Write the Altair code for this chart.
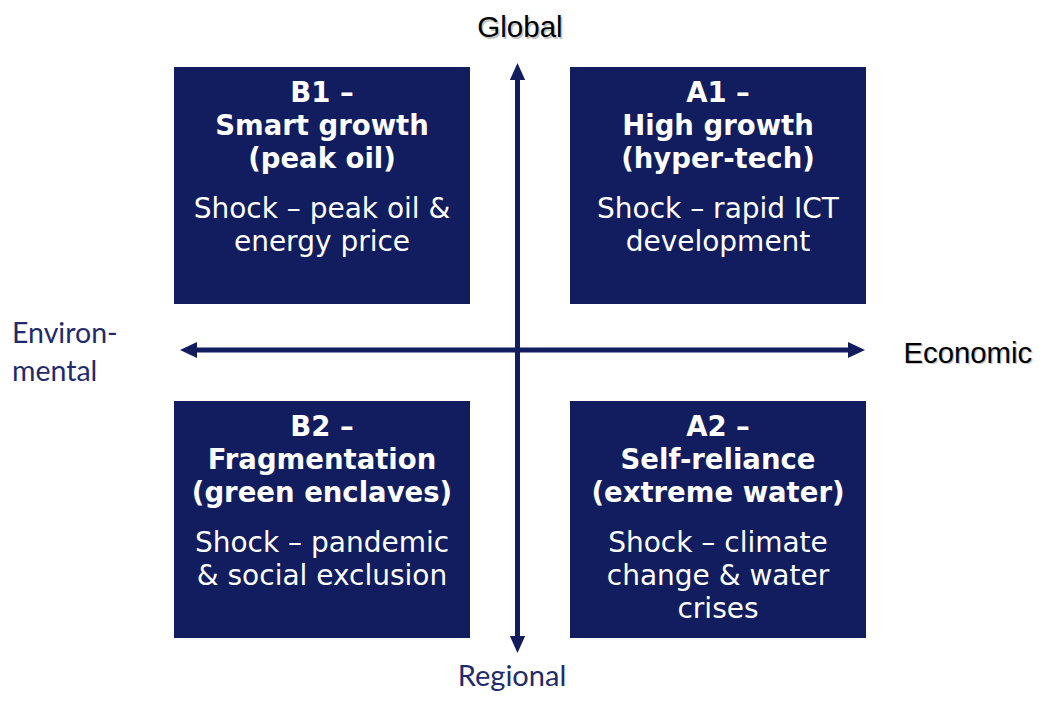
import altair as alt
import pandas as pd

# ---- content -------------------------------------------------------------
codes = ["B1", "A1", "B2", "A2"]
names = ["Smart growth", "High growth", "Fragmentation", "Self-reliance"]
subtitles = ["(peak oil)", "(hyper-tech)", "(green enclaves)", "(extreme water)"]
shocks = [
    ["Shock – peak oil &", "energy price"],
    ["Shock – rapid ICT", "development"],
    ["Shock – pandemic", "& social exclusion"],
    ["Shock – climate", "change & water", "crises"],
]
columns = ["left", "right", "left", "right"]
rows = ["top", "top", "bottom", "bottom"]

axis_top = "Global"
axis_bottom = "Regional"
axis_right = "Economic"
axis_left = ["Environ-", "mental"]

# ---- layout / style ------------------------------------------------------
NAVY = "#111d5e"
LABEL_NAVY = "#1f2b6c"
BOX_X = {"left": (-343.5, -47.5), "right": (52.5, 348.5)}
BOX_Y = {"top": (46, 283), "bottom": (-288, -51)}
TITLE_OFFSETS = [35, 68, 101]
BODY_OFFSETS = [151, 184, 217]
V_TIPS = (287, -303)
H_TIPS = (-337.5, 347.5)

W, H = 1027, 686
xs = alt.Scale(domain=[-509.5, -509.5 + W], nice=False, zero=False)
ys = alt.Scale(domain=[-344, 342], nice=False, zero=False)

# boxes
box_rows = []
title_rows = []
body_rows = []
for code, name, sub, shock, c, r in zip(codes, names, subtitles, shocks, columns, rows):
    x0, x1 = BOX_X[c]
    y0, y1 = BOX_Y[r]
    box_rows.append({"x": x0, "x2": x1, "y": y0, "y2": y1})
    cx = (x0 + x1) / 2
    for t, off in zip([code + " –", name, sub], TITLE_OFFSETS):
        title_rows.append({"x": cx, "y": y1 - off, "text": t})
    for t, off in zip(shock, BODY_OFFSETS):
        body_rows.append({"x": cx, "y": y1 - off, "text": t})

boxes = alt.Chart(pd.DataFrame(box_rows)).mark_rect(color=NAVY).encode(
    x=alt.X("x:Q", scale=xs, axis=None), x2="x2:Q",
    y=alt.Y("y:Q", scale=ys, axis=None), y2="y2:Q",
)

titles = alt.Chart(pd.DataFrame(title_rows)).mark_text(
    font="DejaVu Sans", fontWeight="bold", fontSize=27.5, color="white",
    align="center", baseline="alphabetic",
).encode(x=alt.X("x:Q", scale=xs, axis=None), y=alt.Y("y:Q", scale=ys, axis=None), text="text:N")

bodies = alt.Chart(pd.DataFrame(body_rows)).mark_text(
    font="DejaVu Sans", fontSize=28, color="white",
    align="center", baseline="alphabetic",
).encode(x=alt.X("x:Q", scale=xs, axis=None), y=alt.Y("y:Q", scale=ys, axis=None), text="text:N")

# arrows
INSET = 10
shafts = pd.DataFrame([
    {"x": 0, "x2": 0, "y": V_TIPS[0] - INSET, "y2": V_TIPS[1] + INSET},
    {"x": H_TIPS[0] + INSET, "x2": H_TIPS[1] - INSET, "y": 0, "y2": 0},
])
shaft_layer = alt.Chart(shafts).mark_rule(color=NAVY, strokeWidth=5).encode(
    x=alt.X("x:Q", scale=xs, axis=None), x2="x2:Q",
    y=alt.Y("y:Q", scale=ys, axis=None), y2="y2:Q",
)

heads = pd.DataFrame([
    {"x": 0, "y": V_TIPS[0], "shape": "M0,0L-0.9,2L0.9,2Z"},
    {"x": 0, "y": V_TIPS[1], "shape": "M0,0L-0.9,-2L0.9,-2Z"},
    {"x": H_TIPS[0], "y": 0, "shape": "M0,0L2,-0.95L2,0.95Z"},
    {"x": H_TIPS[1], "y": 0, "shape": "M0,0L-2,-0.95L-2,0.95Z"},
])
head_layer = alt.Chart(heads).mark_point(filled=True, color=NAVY, opacity=1, size=289, strokeWidth=0).encode(
    x=alt.X("x:Q", scale=xs, axis=None),
    y=alt.Y("y:Q", scale=ys, axis=None),
    shape=alt.Shape("shape:N", scale=None),
)

# axis end labels
black_labels = pd.DataFrame([
    {"x": 2.5, "y": 313, "text": axis_top},
    {"x": 386, "y": -13, "text": axis_right},
])


def arial_label(df, align, color, dx=0, dy=0, size=30.5):
    return alt.Chart(df).mark_text(
        font="Liberation Sans", fontSize=size, color=color, align=align,
        baseline="alphabetic", dx=dx, dy=dy,
    ).encode(x=alt.X("x:Q", scale=xs, axis=None), y=alt.Y("y:Q", scale=ys, axis=None), text="text:N")


shadow_center = arial_label(black_labels.iloc[[0]], "center", "#c4c4c4", 1.5, 1.5, 29.5)
label_center = arial_label(black_labels.iloc[[0]], "center", "black", size=29.5)
shadow_left = arial_label(black_labels.iloc[[1]], "left", "#c4c4c4", 1.2, 1.2, 29.3)
label_left = arial_label(black_labels.iloc[[1]], "left", "black", size=29.3)

env_df = pd.DataFrame([
    {"x": -505.5, "y": 7, "text": axis_left[0]},
    {"x": -505.5, "y": -31, "text": axis_left[1]},
])
env_layer = alt.Chart(env_df).mark_text(
    font="Lato", fontSize=28.5, color=LABEL_NAVY, align="left", baseline="alphabetic",
).encode(x=alt.X("x:Q", scale=xs, axis=None), y=alt.Y("y:Q", scale=ys, axis=None), text="text:N")

reg_df = pd.DataFrame([{"x": -5.5, "y": -336, "text": axis_bottom}])
reg_layer = alt.Chart(reg_df).mark_text(
    font="Lato", fontSize=29, color=LABEL_NAVY, align="center", baseline="alphabetic",
).encode(x=alt.X("x:Q", scale=xs, axis=None), y=alt.Y("y:Q", scale=ys, axis=None), text="text:N")

chart = alt.layer(
    boxes, titles, bodies, shaft_layer, head_layer,
    shadow_center, label_center, shadow_left, label_left, env_layer, reg_layer,
).properties(
    width=W, height=H, padding=0, background="white",
    autosize=alt.AutoSizeParams(type="none"),
).configure_view(stroke=None)

chart.save("out.html", embed_options={"renderer": "svg", "actions": False})
